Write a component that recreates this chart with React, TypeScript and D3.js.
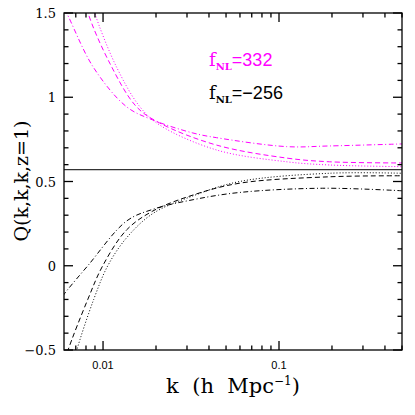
import React, { useEffect, useRef } from 'react'
import * as d3 from 'd3'

// k values (h/Mpc) and Q values
const kPos = [0.0060, 0.0062, 0.00877, 0.01359, 0.0192, 0.0324, 0.0442, 0.1106, 0.194, 0.5]
const qPosDashDot = [1.52, 1.5, 1.181, 0.944, 0.865, 0.788, 0.76, 0.707, 0.711, 0.723]
const kPosB = [0.0078, 0.00822, 0.01091, 0.01548, 0.021, 0.0442, 0.1106, 0.194, 0.5]
const qPosDashed = [1.62, 1.5, 1.203, 0.944, 0.847, 0.716, 0.639, 0.617, 0.61]
const kPosC = [0.0085, 0.00897, 0.01191, 0.01618, 0.021, 0.0442, 0.1106, 0.194, 0.5]
const qPosDotted = [1.6, 1.5, 1.181, 0.944, 0.835, 0.687, 0.617, 0.598, 0.588]

const kNeg = [0.0059, 0.0062, 0.00819, 0.01359, 0.0192, 0.0325, 0.0598, 0.177, 0.5]
const qNegDashDot = [-0.18, -0.15, 0.0, 0.265, 0.335, 0.392, 0.435, 0.46, 0.445]
const kNegB = [0.0061, 0.00633, 0.00819, 0.00996, 0.01359, 0.0192, 0.0325, 0.0598, 0.194, 0.5]
const qNegDashed = [-0.56, -0.5, -0.2, 0.0, 0.212, 0.325, 0.42, 0.49, 0.528, 0.534]
const kNegC = [0.0069, 0.0071, 0.00885, 0.01064, 0.01359, 0.0192, 0.0325, 0.0598, 0.194, 0.5]
const qNegDotted = [-0.56, -0.5, -0.2, 0.0, 0.165, 0.31, 0.415, 0.5, 0.549, 0.549]

const qRef = 0.57
const xMajor = [0.01, 0.1]
const xMinor = [0.007, 0.008, 0.009, 0.02, 0.03, 0.04, 0.05, 0.06, 0.07, 0.08, 0.09, 0.2, 0.3, 0.4, 0.5]
const yMajor = [-0.5, 0, 0.5, 1, 1.5]
const yMinor = d3.range(-0.4, 1.5, 0.1).filter(v => Math.abs(v * 2 - Math.round(v * 2)) > 0.01)

export default function App() {
  const ref = useRef(null)
  useEffect(() => {
    const svg = d3.select(ref.current)
    svg.selectAll('*').remove()
    const L = 64, R = 402, T = 13, B = 350
    const x = d3.scaleLog().domain([0.006, 0.5]).range([L, R])
    const y = d3.scaleLinear().domain([-0.5, 1.5]).range([B, T])

    svg.append('defs').append('clipPath').attr('id', 'plotclip')
      .append('rect').attr('x', L).attr('y', T).attr('width', R - L).attr('height', B - T)

    const line = d3.line().x(d => x(d[0])).y(d => y(d[1])).curve(d3.curveCatmullRom.alpha(0.5))
    const series = [
      { k: kPos, q: qPosDashDot, c: '#ff00ff', dash: '5,2.5,1,2.5' },
      { k: kPosB, q: qPosDashed, c: '#ff00ff', dash: '5,3' },
      { k: kPosC, q: qPosDotted, c: '#ff00ff', dash: '1,2' },
      { k: kNeg, q: qNegDashDot, c: '#000', dash: '5,2.5,1,2.5' },
      { k: kNegB, q: qNegDashed, c: '#000', dash: '5,3' },
      { k: kNegC, q: qNegDotted, c: '#000', dash: '1,2' },
    ]
    const g = svg.append('g').attr('clip-path', 'url(#plotclip)')
    series.forEach(s => {
      g.append('path').datum(s.k.map((k, i) => [k, s.q[i]]))
        .attr('d', line).attr('fill', 'none').attr('stroke', s.c)
        .attr('stroke-width', 1).attr('stroke-dasharray', s.dash)
    })
    g.append('line').attr('x1', L).attr('x2', R).attr('y1', y(qRef)).attr('y2', y(qRef))
      .attr('stroke', '#000').attr('stroke-width', 1)

    // frame + ticks
    const ax = svg.append('g').attr('stroke', '#000').attr('stroke-width', 1.3)
    ax.append('rect').attr('x', L).attr('y', T).attr('width', R - L).attr('height', B - T).attr('fill', 'none')
    const tick = (x1, y1, x2, y2) => ax.append('line').attr('x1', x1).attr('y1', y1).attr('x2', x2).attr('y2', y2)
    xMajor.forEach(v => { tick(x(v), B, x(v), B - 9); tick(x(v), T, x(v), T + 9) })
    xMinor.forEach(v => { tick(x(v), B, x(v), B - 4.5); tick(x(v), T, x(v), T + 4.5) })
    yMajor.forEach(v => { tick(L, y(v), L + 9, y(v)); tick(R, y(v), R - 9, y(v)) })
    yMinor.forEach(v => { tick(L, y(v), L + 4.5, y(v)); tick(R, y(v), R - 4.5, y(v)) })

    // tick labels
    svg.append('g').selectAll('text').data(yMajor).join('text')
      .attr('x', 56).attr('y', d => y(d) + 5).attr('text-anchor', 'end')
      .attr('font-family', 'DejaVu Serif, serif').attr('font-size', 13)
      .text(d => (d < 0 ? '\u2212' : '') + Math.abs(d))
    svg.append('g').selectAll('text').data(xMajor).join('text')
      .attr('x', d => x(d)).attr('y', 369).attr('text-anchor', 'middle')
      .attr('font-family', 'Liberation Sans, sans-serif').attr('font-size', 11)
      .text(d => String(d))

    // axis titles
    svg.append('text').attr('x', 233).attr('y', 393).attr('text-anchor', 'middle')
      .attr('font-family', 'DejaVu Serif, serif').attr('font-size', 21)
      .attr('xml:space', 'preserve')
      .html('k  (h  Mpc<tspan dy="-8" font-size="12">\u22121</tspan><tspan dy="8">)</tspan>')
    svg.append('text').attr('transform', 'translate(28,181) rotate(-90)').attr('text-anchor', 'middle')
      .attr('font-family', 'DejaVu Serif, serif').attr('font-size', 19)
      .text('Q(k,k,k,z=1)')

    // legend
    const leg = [{ t: '=332', c: '#ff00ff', y: 66 }, { t: '=\u2212256', c: '#000', y: 99 }]
    leg.forEach(l => {
      const tx = svg.append('text').attr('x', 209).attr('y', l.y).attr('fill', l.c).attr('font-size', 18)
      tx.append('tspan').attr('font-family', 'DejaVu Serif, serif').text('f')
      tx.append('tspan').attr('font-family', 'DejaVu Serif, serif').attr('font-weight', 'bold')
        .attr('font-size', 10).attr('dy', 4).text('NL')
      tx.append('tspan').attr('font-family', 'Liberation Sans, sans-serif').attr('dy', -4).text(l.t)
    })
  }, [])
  return <svg ref={ref} width={415} height={415} style={{ position: 'absolute', left: 0, top: 0, background: '#fff' }}></svg>
}
